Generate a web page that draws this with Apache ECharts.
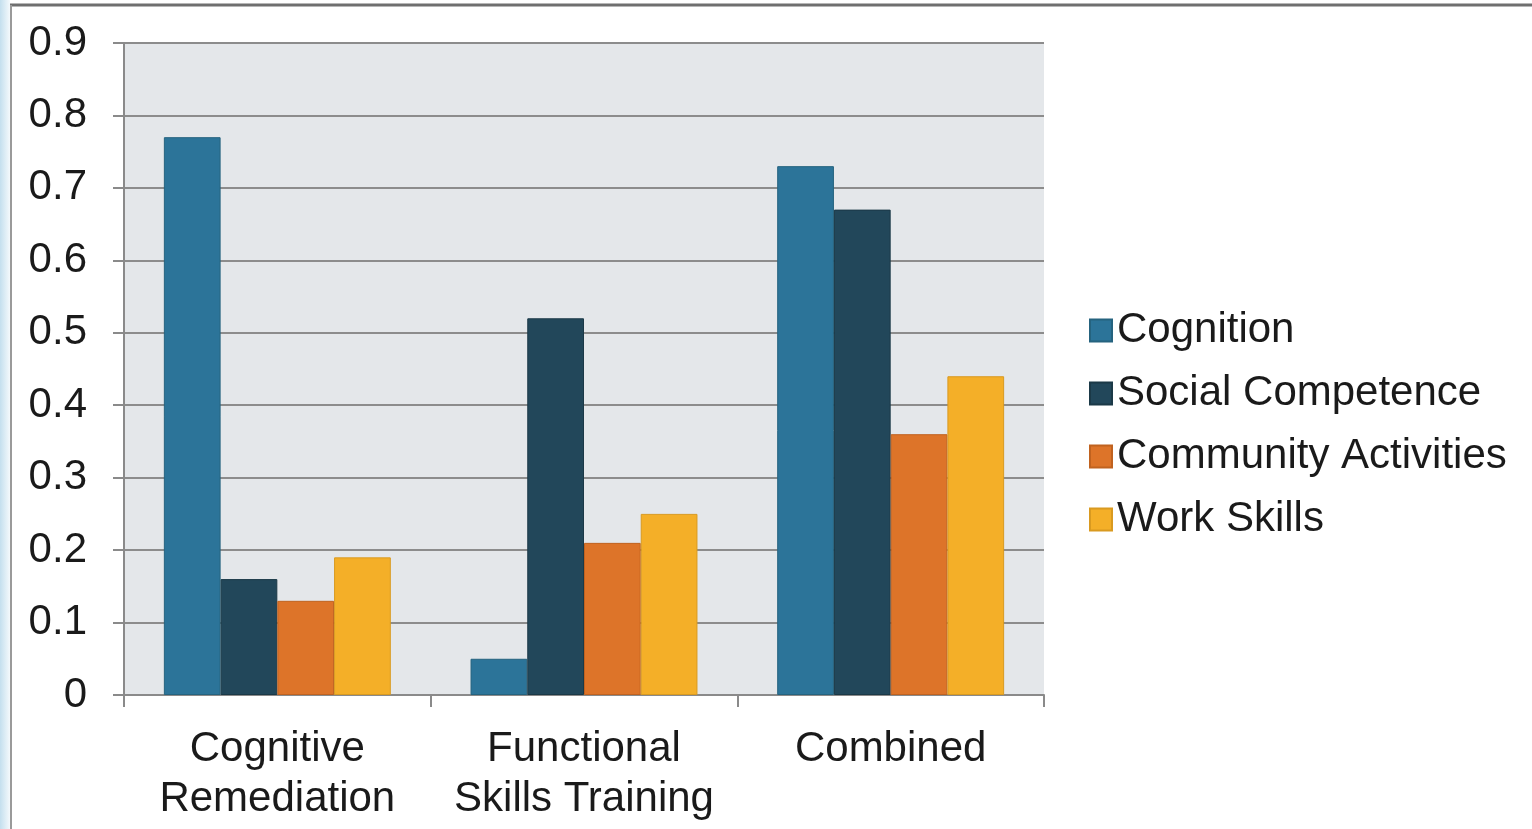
<!DOCTYPE html>
<html>
<head>
<meta charset="utf-8">
<script src="https://cdn.jsdelivr.net/npm/echarts@6/dist/echarts.min.js"></script>
<style>
  html, body { margin: 0; padding: 0; background: #ffffff; }
  #chart { width: 1532px; height: 829px; }
</style>
</head>
<body>
<div id="chart"></div>
<script>
// Intervention types on the x axis
const categories = ['Cognitive\nRemediation', 'Functional\nSkills Training', 'Combined'];

// Effect sizes per outcome domain
const cognition = [0.77, 0.05, 0.73];
const socialCompetence = [0.16, 0.52, 0.67];
const communityActivities = [0.13, 0.21, 0.36];
const workSkills = [0.19, 0.25, 0.44];

const seriesNames = ['Cognition', 'Social Competence', 'Community Activities', 'Work Skills'];
const seriesValues = [cognition, socialCompetence, communityActivities, workSkills];
const fills = ['#2c7499', '#22475a', '#dd7429', '#f4af28'];
const edges = ['#25637f', '#1b3947', '#c0621f', '#d99a20'];

const FONT = '"Liberation Sans", Arial, sans-serif';
const chart = echarts.init(document.getElementById('chart'));

chart.setOption({
  animation: false,
  backgroundColor: '#ffffff',
  textStyle: { fontFamily: FONT },
  graphic: [
    // slide edge on the left
    {
      type: 'rect', shape: { x: 0, y: 0, width: 10, height: 829 }, silent: true,
      style: {
        fill: new echarts.graphic.LinearGradient(0, 0, 1, 0, [
          { offset: 0, color: '#c4dfee' },
          { offset: 1, color: '#f4f9fc' }
        ])
      }
    },
    // frame around the chart
    { type: 'line', shape: { x1: 10, y1: 5, x2: 1532, y2: 5 }, style: { stroke: '#6f6f6f', lineWidth: 3 }, silent: true },
    { type: 'line', shape: { x1: 11, y1: 5, x2: 11, y2: 829 }, style: { stroke: '#9a9a9a', lineWidth: 2 }, silent: true }
  ],
  grid: {
    left: 124, right: 488, top: 43, bottom: 134,
    show: true, backgroundColor: '#e4e7ea', borderWidth: 0
  },
  legend: {
    orient: 'vertical',
    left: 1084, top: 303,
    itemWidth: 22, itemHeight: 22, itemGap: 18,
    icon: 'rect',
    textStyle: { fontSize: 42, color: '#1a1a1a', fontFamily: FONT, lineHeight: 45 },
    data: seriesNames
  },
  xAxis: {
    type: 'category',
    data: categories,
    axisLine: { lineStyle: { color: '#8a8a8a', width: 2 } },
    axisTick: { show: true, length: 12, lineStyle: { color: '#8a8a8a', width: 2 } },
    axisLabel: { fontSize: 42, lineHeight: 50, color: '#1a1a1a', margin: 29, fontFamily: FONT, interval: 0 }
  },
  yAxis: {
    type: 'value',
    min: 0, max: 0.9, interval: 0.1,
    axisLine: { show: true, lineStyle: { color: '#8a8a8a', width: 2 } },
    axisTick: { show: true, length: 11, lineStyle: { color: '#8a8a8a', width: 2 } },
    splitLine: { lineStyle: { color: '#8c8c8c', width: 2 } },
    axisLabel: {
      fontSize: 42, color: '#1a1a1a', margin: 37, fontFamily: FONT,
      formatter: v => (v === 0 ? '0' : v.toFixed(1))
    }
  },
  series: seriesNames.map((name, i) => ({
    name: name,
    type: 'bar',
    data: seriesValues[i],
    barGap: '0%',
    barCategoryGap: '26%',
    itemStyle: { color: fills[i], borderColor: edges[i], borderWidth: 1 }
  }))
});
</script>
</body>
</html>
